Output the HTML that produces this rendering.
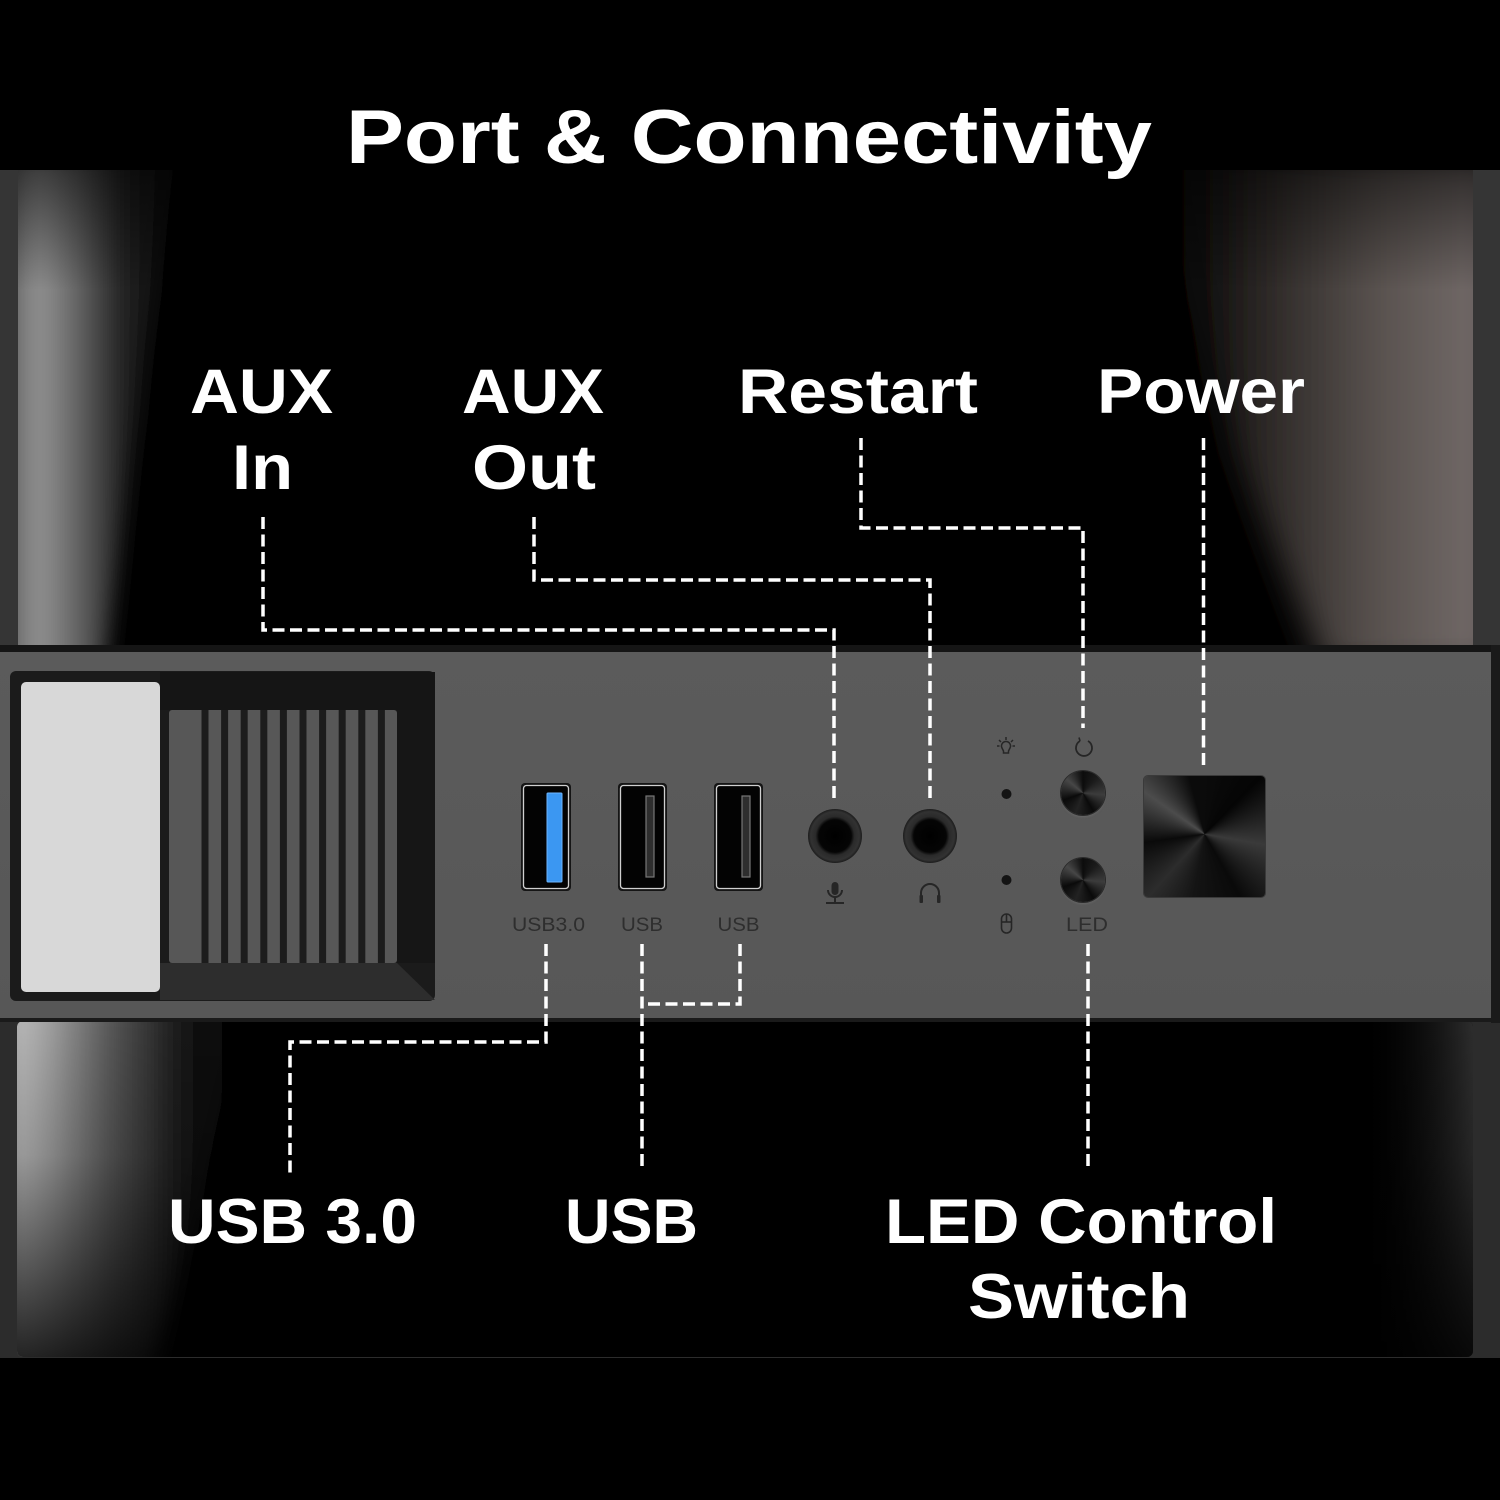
<!DOCTYPE html>
<html>
<head>
<meta charset="utf-8">
<style>
  html,body{margin:0;padding:0;background:#000;}
  body{width:1500px;height:1500px;position:relative;overflow:hidden;}
  svg{position:absolute;left:0;top:0;}
  .btn{position:absolute;width:44px;height:44px;border-radius:50%;
    background:conic-gradient(from 0deg at 50% 50%, #0c0c0c 0deg, #1a1a1a 40deg, #3c3c3c 95deg, #0a0a0a 150deg, #222 200deg, #0a0a0a 250deg, #474747 310deg, #0c0c0c 360deg);
    box-shadow:0 0 0 1px #2a2a2a, 0 2px 2px rgba(120,120,120,0.5);}
  .pwr{position:absolute;left:1144px;top:776px;width:121px;height:121px;border-radius:4px;
    background:conic-gradient(from 0deg at 50% 48%, #0b0b0b 0deg, #050505 45deg, #3a3a3a 100deg, #0a0a0a 150deg, #141414 190deg, #2c2c2c 222deg, #0a0a0a 262deg, #4c4c4c 305deg, #0b0b0b 345deg, #0b0b0b 360deg);
    box-shadow:0 0 0 1px #3a3a3a;}
</style>
</head>
<body>
<svg width="1500" height="1500" viewBox="0 0 1500 1500" xmlns="http://www.w3.org/2000/svg">
  <defs>
    <linearGradient id="gUL" gradientUnits="userSpaceOnUse" x1="18" y1="0" x2="190" y2="0">
      <stop offset="0" stop-color="#6a6a6a"/>
      <stop offset="0.1" stop-color="#959595"/>
      <stop offset="0.3" stop-color="#6e6e6e"/>
      <stop offset="0.6" stop-color="#222"/>
      <stop offset="1" stop-color="#000"/>
    </linearGradient>
    <linearGradient id="gUR" gradientUnits="userSpaceOnUse" x1="1170" y1="0" x2="1472" y2="0">
      <stop offset="0" stop-color="#000"/>
      <stop offset="0.3" stop-color="#2a2624"/>
      <stop offset="0.7" stop-color="#5a5350"/>
      <stop offset="1" stop-color="#706866"/>
    </linearGradient>
    <linearGradient id="gTopFade" x1="0" y1="0" x2="0" y2="1">
      <stop offset="0" stop-color="#000" stop-opacity="0.55"/>
      <stop offset="0.6" stop-color="#000" stop-opacity="0"/>
      <stop offset="1" stop-color="#000" stop-opacity="0"/>
    </linearGradient>
    <linearGradient id="gLL" gradientUnits="userSpaceOnUse" x1="17" y1="0" x2="240" y2="0">
      <stop offset="0" stop-color="#b8b8b8"/>
      <stop offset="0.12" stop-color="#a5a5a5"/>
      <stop offset="0.4" stop-color="#5a5a5a"/>
      <stop offset="0.75" stop-color="#141414"/>
      <stop offset="1" stop-color="#000"/>
    </linearGradient>
    <linearGradient id="gBotFade" gradientUnits="userSpaceOnUse" x1="0" y1="1021" x2="0" y2="1357">
      <stop offset="0" stop-color="#000" stop-opacity="0"/>
      <stop offset="0.4" stop-color="#000" stop-opacity="0.15"/>
      <stop offset="1" stop-color="#000" stop-opacity="0.8"/>
    </linearGradient>
    <linearGradient id="gLR" gradientUnits="userSpaceOnUse" x1="1360" y1="0" x2="1472" y2="0">
      <stop offset="0" stop-color="#000" stop-opacity="0"/>
      <stop offset="1" stop-color="#2c2c2c" stop-opacity="1"/>
    </linearGradient>
    <linearGradient id="gPanel" x1="0" y1="0" x2="0" y2="1">
      <stop offset="0" stop-color="#5b5b5b"/>
      <stop offset="1" stop-color="#575757"/>
    </linearGradient>
    <radialGradient id="gJack" cx="0.5" cy="0.5" r="0.5">
      <stop offset="0" stop-color="#000"/>
      <stop offset="0.6" stop-color="#050505"/>
      <stop offset="0.72" stop-color="#2a2a2a"/>
      <stop offset="0.9" stop-color="#323232"/>
      <stop offset="1" stop-color="#1c1c1c"/>
    </radialGradient>
    <filter id="blur10" x="-50%" y="-20%" width="200%" height="140%"><feGaussianBlur stdDeviation="10"/></filter>
    <filter id="blur16" x="-50%" y="-20%" width="200%" height="140%"><feGaussianBlur stdDeviation="16"/></filter>
    <clipPath id="clipU"><rect x="18" y="170" width="1455" height="478"/></clipPath>
    <clipPath id="clipL"><rect x="17" y="1021" width="1456" height="336" rx="6"/></clipPath>
  </defs>

  <!-- background -->
  <rect x="0" y="0" width="1500" height="1500" fill="#000"/>

  <!-- upper frame + glass -->
  <rect x="0" y="170" width="1500" height="482" fill="#353535"/>
  <rect x="18" y="170" width="1455" height="478" fill="#000"/>
  <g clip-path="url(#clipU)">
    <path d="M0 150 H175 L150 330 L105 670 H0 Z" fill="url(#gUL)" filter="url(#blur10)"/>
    <path d="M1165 150 H1500 V670 H1325 L1235 455 L1190 300 Z" fill="url(#gUR)" filter="url(#blur16)"/>
    <rect x="18" y="170" width="1455" height="200" fill="url(#gTopFade)"/>
  </g>

  <!-- lower frame + glass -->
  <rect x="0" y="1018" width="1500" height="340" fill="#2c2c2c"/>
  <rect x="17" y="1021" width="1456" height="336" rx="6" fill="#000"/>
  <g clip-path="url(#clipL)">
    <path d="M0 1000 H245 L200 1200 L150 1380 H0 Z" fill="url(#gLL)" filter="url(#blur10)"/>
    <rect x="1360" y="1000" width="140" height="380" fill="url(#gLR)"/>
    <rect x="17" y="1021" width="1456" height="336" fill="url(#gBotFade)"/>
  </g>

  <!-- front panel -->
  <rect x="0" y="645" width="1500" height="8" fill="#151515"/>
  <rect x="0" y="652" width="1491" height="367" fill="url(#gPanel)"/>
  <rect x="1491" y="645" width="9" height="378" fill="#1a1a1a"/>
  <rect x="0" y="1018" width="1500" height="4" fill="#1a1a1a"/>

  <!-- left recess -->
  <rect x="10" y="671" width="425" height="330" rx="6" fill="#1b1b1b"/>
  <path d="M160 963 H397 L435 1000 H160 Z" fill="#2d2d2d"/>
  <rect x="397" y="700" width="38" height="263" fill="#161616"/>
  <rect x="160" y="672" width="275" height="38" fill="#151515"/>
  <rect x="21" y="682" width="139" height="310" rx="5" fill="#d8d8d8"/>
  <rect x="169" y="710" width="228" height="253" rx="3" fill="#575757"/>
  <g fill="#1c1c1c">
    <rect x="201.5" y="710" width="7" height="253"/>
    <rect x="221.1" y="710" width="7" height="253"/>
    <rect x="240.7" y="710" width="7" height="253"/>
    <rect x="260.3" y="710" width="7" height="253"/>
    <rect x="279.9" y="710" width="7" height="253"/>
    <rect x="299.5" y="710" width="7" height="253"/>
    <rect x="319.1" y="710" width="7" height="253"/>
    <rect x="338.7" y="710" width="7" height="253"/>
    <rect x="358.3" y="710" width="7" height="253"/>
    <rect x="377.9" y="710" width="7" height="253"/>
  </g>

  <!-- USB ports -->
  <rect x="521" y="783" width="50" height="108" rx="4" fill="#151515"/>
  <rect x="523.5" y="785.5" width="45" height="103" rx="3" fill="#030303" stroke="#cfcfcf" stroke-width="1.3"/>
  <rect x="547" y="793" width="15" height="89" rx="1" fill="#3b97f2" stroke="#6cb6ff" stroke-width="1"/>
  <rect x="618" y="783" width="49" height="108" rx="4" fill="#151515"/>
  <rect x="620.5" y="785.5" width="44" height="103" rx="3" fill="#030303" stroke="#cfcfcf" stroke-width="1.3"/>
  <rect x="646" y="796" width="8" height="81" fill="#2e2e2e" stroke="#777" stroke-width="1.2"/>
  <rect x="714" y="783" width="49" height="108" rx="4" fill="#151515"/>
  <rect x="716.5" y="785.5" width="44" height="103" rx="3" fill="#030303" stroke="#cfcfcf" stroke-width="1.3"/>
  <rect x="742" y="796" width="8" height="81" fill="#2e2e2e" stroke="#777" stroke-width="1.2"/>

  <!-- jacks -->
  <circle cx="835" cy="836" r="27" fill="url(#gJack)"/>
  <circle cx="930" cy="836" r="27" fill="url(#gJack)"/>

  <!-- mic icon -->
  <g stroke="#262626" stroke-width="2" fill="none">
    <rect x="831.5" y="882" width="7" height="13" rx="3.5" fill="#262626" stroke="none"/>
    <path d="M828 890 a7 7 0 0 0 14 0"/>
    <line x1="835" y1="897" x2="835" y2="902"/>
    <line x1="826" y1="903" x2="844" y2="903"/>
  </g>
  <!-- headphone icon -->
  <g stroke="#262626" stroke-width="2" fill="none">
    <path d="M921 900 v-7 a9 9 0 0 1 18 0 v7"/>
    <rect x="919.5" y="895" width="3.5" height="8" rx="1" fill="#262626" stroke="none"/>
    <rect x="937" y="895" width="3.5" height="8" rx="1" fill="#262626" stroke="none"/>
  </g>

  <!-- LED indicators -->
  <g stroke="#262626" stroke-width="1.5" fill="none">
    <path d="M1002 748 a4.5 4.5 0 1 1 8 0 l-1.5 3 v2 h-5 v-2 Z"/>
    <line x1="1006" y1="737" x2="1006" y2="740"/>
    <line x1="999" y1="740" x2="1001" y2="742"/>
    <line x1="1013" y1="740" x2="1011" y2="742"/>
    <line x1="997" y1="746" x2="999.5" y2="746"/>
    <line x1="1015" y1="746" x2="1012.5" y2="746"/>
  </g>
  <circle cx="1006.5" cy="794" r="5" fill="#141414"/>
  <circle cx="1006.5" cy="880" r="5" fill="#141414"/>
  <g stroke="#262626" stroke-width="1.6" fill="none">
    <rect x="1001.5" y="914" width="10" height="19" rx="5"/>
    <line x1="1001.5" y1="922" x2="1011.5" y2="922"/>
    <line x1="1006.5" y1="914" x2="1006.5" y2="922"/>
  </g>
  <!-- restart icon -->
  <path d="M1080 741 A8 8 0 1 0 1088 741" stroke="#262626" stroke-width="1.8" fill="none"/>
  <line x1="1080" y1="741" x2="1079" y2="737.5" stroke="#262626" stroke-width="1.6"/>

  <!-- panel small labels -->
  <g font-family="Liberation Sans, DejaVu Sans, sans-serif" font-size="19" fill="#2e2e2e" text-anchor="middle">
    <text x="548.5" y="931" textLength="73" lengthAdjust="spacingAndGlyphs">USB3.0</text>
    <text x="642" y="931" textLength="42" lengthAdjust="spacingAndGlyphs">USB</text>
    <text x="738.5" y="931" textLength="42" lengthAdjust="spacingAndGlyphs">USB</text>
    <text x="1087" y="931" textLength="42" lengthAdjust="spacingAndGlyphs">LED</text>
  </g>

  <!-- dashed connectors -->
  <g stroke="#ffffff" stroke-width="3.5" fill="none" stroke-dasharray="12 5.5">
    <path d="M263 517 V630 H834 V800"/>
    <path d="M534 517 V580 H930 V800"/>
    <path d="M861 438 V528 H1083 V728"/>
    <path d="M1203.5 438 V766"/>
    <path d="M546 944 V1042 H290 V1177"/>
    <path d="M642 944 V1170"/>
    <path d="M740 944 V1004 H642"/>
    <path d="M1088 944 V1170"/>
  </g>

  <!-- title -->
  <text x="346" y="163" font-family="Liberation Sans, DejaVu Sans, sans-serif" font-weight="bold" font-size="76" fill="#fff" textLength="806" lengthAdjust="spacingAndGlyphs">Port &amp; Connectivity</text>

  <!-- labels -->
  <g font-family="Liberation Sans, DejaVu Sans, sans-serif" font-weight="bold" font-size="63" fill="#fff">
    <text x="190" y="413" textLength="143" lengthAdjust="spacingAndGlyphs">AUX</text>
    <text x="232" y="489" textLength="61" lengthAdjust="spacingAndGlyphs">In</text>
    <text x="462" y="413" textLength="142" lengthAdjust="spacingAndGlyphs">AUX</text>
    <text x="472" y="489" textLength="124" lengthAdjust="spacingAndGlyphs">Out</text>
    <text x="738" y="413" textLength="240" lengthAdjust="spacingAndGlyphs">Restart</text>
    <text x="1097" y="413" textLength="208" lengthAdjust="spacingAndGlyphs">Power</text>
    <text x="168" y="1243" textLength="249" lengthAdjust="spacingAndGlyphs">USB 3.0</text>
    <text x="565" y="1243" textLength="133" lengthAdjust="spacingAndGlyphs">USB</text>
    <text x="885" y="1243" textLength="392" lengthAdjust="spacingAndGlyphs">LED Control</text>
    <text x="968" y="1318" textLength="222" lengthAdjust="spacingAndGlyphs">Switch</text>
  </g>
</svg>

<div class="btn" style="left:1061px;top:771px;"></div>
<div class="btn" style="left:1061px;top:858px;"></div>
<div class="pwr"></div>
</body>
</html>
